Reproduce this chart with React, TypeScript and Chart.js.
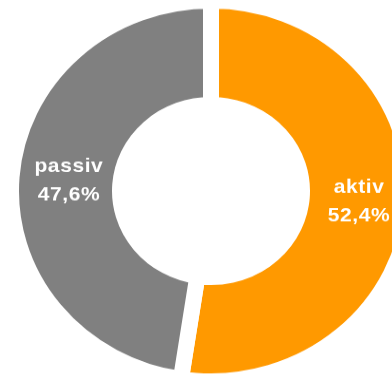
import React, { useEffect, useRef } from "react";
import { Chart, registerables } from "chart.js";

Chart.register(...registerables);

const categories = ["aktiv", "passiv"];
const values = [52.4, 47.6];
const valueLabels = ["52,4%", "47,6%"];
const colors = ["#FF9900", "#808080"];

const labelPlugin = {
  id: "sliceLabels",
  afterDatasetsDraw(chart: any) {
    const ctx = chart.ctx;
    const meta = chart.getDatasetMeta(0);
    ctx.save();
    ctx.fillStyle = "#FFFFFF";
    ctx.font = 'bold 21px "Liberation Sans", Arial, sans-serif';
    (ctx as any).letterSpacing = "0.6px";
    ctx.textAlign = "center";
    ctx.textBaseline = "middle";
    meta.data.forEach((arc: any, i: number) => {
      const p = arc.getCenterPoint();
      const x = p.x + 3;
      ctx.fillText(categories[i], x, p.y - 15);
      ctx.fillText(valueLabels[i], x, p.y + 15);
    });
    ctx.restore();
  },
};

export default function App() {
  const ref = useRef<HTMLCanvasElement | null>(null);
  useEffect(() => {
    if (!ref.current) return;
    const chart = new Chart(ref.current, {
      type: "doughnut",
      data: {
        labels: categories,
        datasets: [
          {
            data: values,
            backgroundColor: colors,
            borderColor: "#FFFFFF",
            borderWidth: 16,
            hoverOffset: 0,
          },
        ],
      },
      options: {
        responsive: false,
        animation: false,
        radius: 200,
        cutout: "45.5%",
        layout: { padding: 0 },
        plugins: {
          legend: { display: false },
          tooltip: { enabled: false },
        },
      },
      plugins: [labelPlugin],
    });
    return () => chart.destroy();
  }, []);
  return (
    <div
      style={{
        position: "absolute",
        left: 0,
        top: 0,
        width: 392,
        height: 376,
        overflow: "hidden",
        background: "#FFFFFF",
      }}
    >
      <div
        style={{
          width: 422,
          height: 402,
          transform: "scaleY(0.95)",
          transformOrigin: "0 0",
        }}
      >
        <canvas ref={ref} width={422} height={402} style={{ display: "block" }} />
      </div>
    </div>
  );
}
